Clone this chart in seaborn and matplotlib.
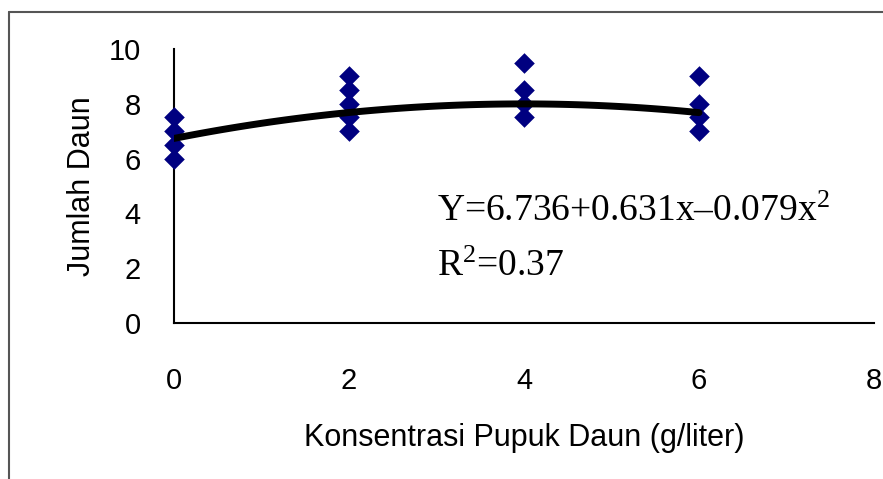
import matplotlib
matplotlib.use("Agg")
import matplotlib.pyplot as plt
import seaborn as sns
import pandas as pd
import numpy as np
from matplotlib.lines import Line2D

# leaf counts per fertilizer concentration
konsentrasi = [0, 0, 0, 0,
               2, 2, 2, 2, 2,
               4, 4, 4, 4,
               6, 6, 6, 6]
jumlah_daun = [6.0, 6.5, 7.0, 7.5,
               7.0, 7.5, 8.0, 8.5, 9.0,
               7.5, 8.0, 8.5, 9.5,
               7.0, 7.5, 8.0, 9.0]

# quadratic trend printed on the chart
koef = [6.736, 0.631, -0.079]
r2 = 0.37

x_ticks = [0, 2, 4, 6, 8]
y_ticks = [0, 2, 4, 6, 8, 10]

df = pd.DataFrame({"x": konsentrasi, "y": jumlah_daun})
xs = np.linspace(0, 6, 100)
trend = pd.DataFrame({"x": xs, "y": koef[0] + koef[1] * xs + koef[2] * xs ** 2})

sns.set_style("white")
plt.rcParams["font.family"] = ["Liberation Sans", "DejaVu Sans"]
plt.rcParams["text.color"] = "black"
plt.rcParams["axes.labelcolor"] = "black"
plt.rcParams["xtick.color"] = "black"
plt.rcParams["ytick.color"] = "black"
plt.rcParams["mathtext.fontset"] = "custom"
plt.rcParams["mathtext.rm"] = "Liberation Serif"
plt.rcParams["mathtext.it"] = "Liberation Serif:italic"

W, H = 883, 479
fig = plt.figure(figsize=(W / 100, H / 100), dpi=100)
ax = fig.add_axes([174 / W, 1 - 323 / H, 700 / W, 274 / H])

sns.scatterplot(data=df, x="x", y="y", ax=ax, marker="D", s=110,
                color="#000080", edgecolor="#000080", linewidth=0,
                clip_on=False, zorder=3)
sns.lineplot(data=trend, x="x", y="y", ax=ax, color="black",
             linewidth=5, zorder=4)

ax.set_xlim(0, 8)
ax.set_ylim(0, 10)
ax.set_xticks(x_ticks)
ax.set_yticks(y_ticks)
ax.tick_params(axis="both", labelsize=21, length=7, width=1.2,
               direction="out")
ax.tick_params(axis="x", pad=25)
ax.tick_params(axis="y", pad=17)
sns.despine(ax=ax)
for s in ["left", "bottom"]:
    ax.spines[s].set_color("black")
    ax.spines[s].set_linewidth(1.5)

ax.set_xlabel("Konsentrasi Pupuk Daun (g/liter)", fontsize=22, labelpad=20)
ax.set_ylabel("Jumlah Daun", fontsize=22, labelpad=8)

serif = ["Liberation Serif", "DejaVu Serif"]
ax.text(437 / W, 1 - 221 / H,
        "Y=6.736+0.631x\u20130.079x$\\mathrm{^{2}}$",
        transform=fig.transFigure, fontsize=27, family=serif)
ax.text(437 / W, 1 - 276 / H, "R$\\mathrm{^{2}}$=%.2f" % r2,
        transform=fig.transFigure, fontsize=27, family=serif)

# frame of the original picture (top and left edge only)
fig.add_artist(Line2D([9 / W, 1], [1 - 12 / H, 1 - 12 / H],
                      transform=fig.transFigure, color="#555555", lw=1.5))
fig.add_artist(Line2D([9 / W, 9 / W], [0, 1 - 12 / H],
                      transform=fig.transFigure, color="#555555", lw=1.5))

fig.savefig("out.png", dpi=100)
